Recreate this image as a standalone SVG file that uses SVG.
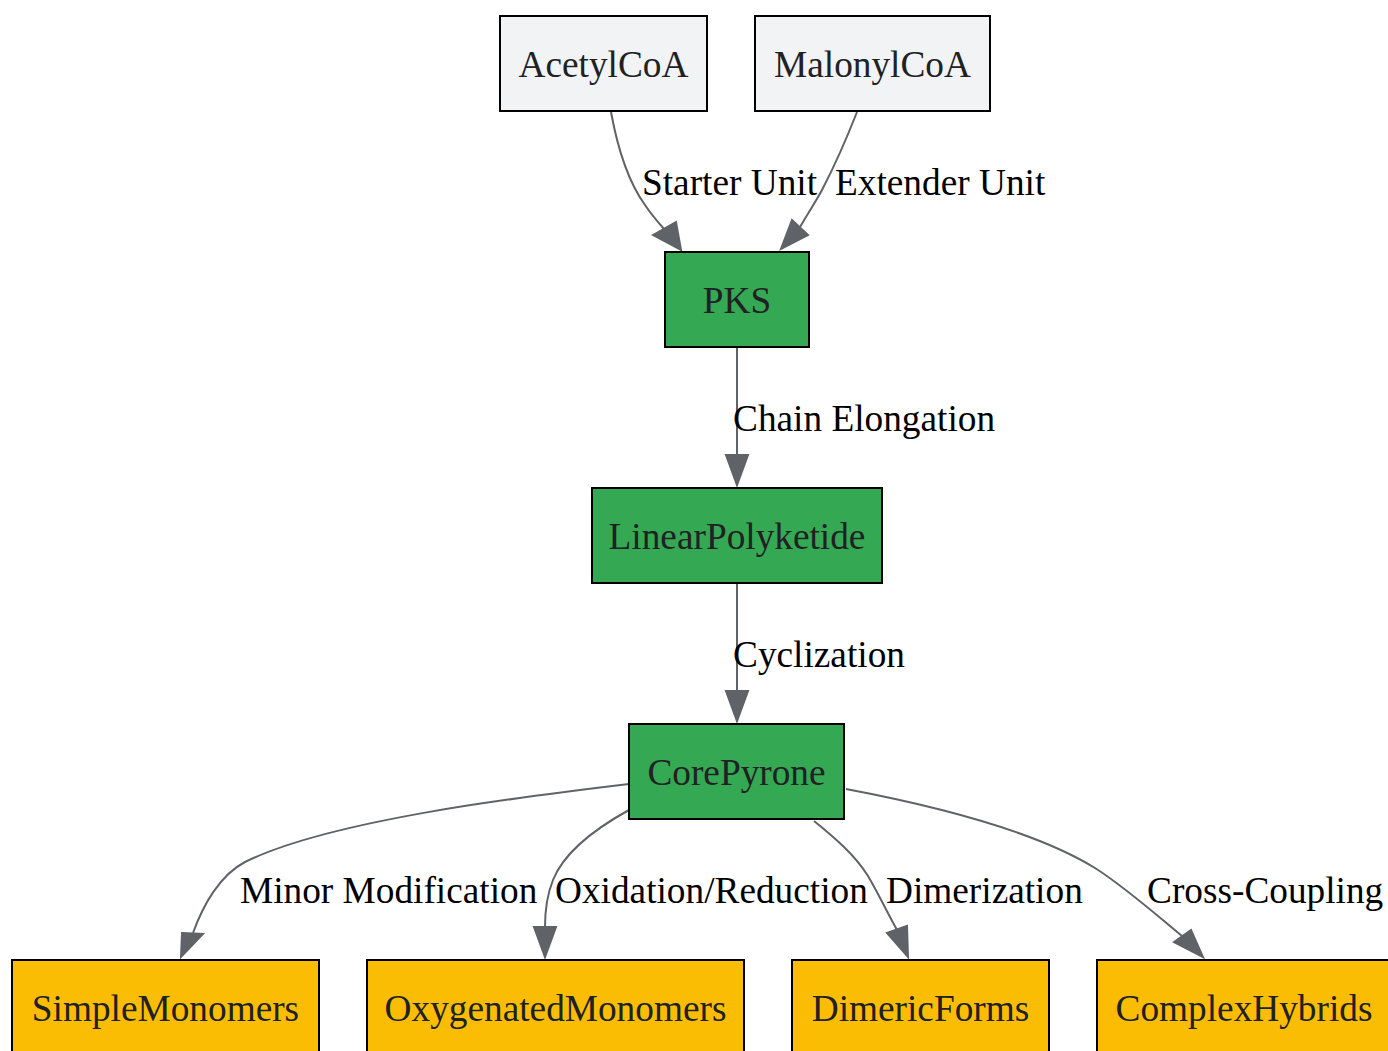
<svg xmlns="http://www.w3.org/2000/svg" width="1388" height="1051" viewBox="0 0 1388 1051">
<style>
.n{stroke:#000;stroke-width:2}
.src{fill:#f1f3f4}
.mid{fill:#34a853}
.out{fill:#fbbc04}
.nt{font-family:"Liberation Serif","Times New Roman",serif;font-size:37.3px;fill:#202124;text-anchor:middle}
.e{fill:none;stroke:#5f6368;stroke-width:2}
.ah{fill:#5f6368;stroke:#5f6368;stroke-width:2}
.el{font-family:"Liberation Serif","Times New Roman",serif;font-size:37.3px;fill:#000}
</style>
<rect width="1388" height="1051" fill="#fff"/>
<g id="connectors">
<path class="e" d="M611,112 C617,145 627,180 645,205 C651,214 657,221 664,229"/>
<polygon class="ah" points="653,235 676,222 681,250"/>
<text class="el" x="642" y="195">Starter Unit</text>
<path class="e" d="M857,112 C848,135 835,165 822,190 C815,203 808,213 800,227"/>
<polygon class="ah" points="792,220 808,235 781,249"/>
<text class="el" x="835" y="195">Extender Unit</text>
<path class="e" d="M737,348 L737,455"/>
<polygon class="ah" points="726,455 748,455 737,485"/>
<text class="el" x="733" y="431">Chain Elongation</text>
<path class="e" d="M737,584 L737,691"/>
<polygon class="ah" points="726,691 748,691 737,721"/>
<text class="el" x="733" y="667">Cyclization</text>
<path class="e" d="M629,784 C520,797 330,820 245,862 C220,875 203,905 193,933"/>
<polygon class="ah" points="182,933 203,934 181,957"/>
<text class="el" x="240" y="903">Minor Modification</text>
<path class="e" d="M629,810 C600,826 565,850 553,880 C547,895 545,910 545,927"/>
<polygon class="ah" points="534,927 556,927 545,957"/>
<text class="el" x="555" y="903">Oxidation/Reduction</text>
<path class="e" d="M814,821 C835,838 855,855 868,876 C878,893 886,910 897,930"/>
<polygon class="ah" points="887,933 907,926 908,957"/>
<text class="el" x="886" y="903">Dimerization</text>
<path class="e" d="M846,789 C920,803 1030,828 1095,868 C1125,887 1160,918 1182,936"/>
<polygon class="ah" points="1174,942 1191,930 1203,957"/>
<text class="el" x="1147" y="903">Cross-Coupling</text>
</g>
<g id="AcetylCoA"><rect class="n src" x="500" y="16" width="207" height="95"/><text class="nt" x="603.5" y="76.5">AcetylCoA</text></g>
<g id="MalonylCoA"><rect class="n src" x="755" y="16" width="235" height="95"/><text class="nt" x="872.5" y="76.5">MalonylCoA</text></g>
<g id="PKS"><rect class="n mid" x="665" y="252" width="144" height="95"/><text class="nt" x="737" y="312.5">PKS</text></g>
<g id="LinearPolyketide"><rect class="n mid" x="592" y="488" width="290" height="95"/><text class="nt" x="737" y="548.5">LinearPolyketide</text></g>
<g id="CorePyrone"><rect class="n mid" x="629" y="724" width="215" height="95"/><text class="nt" x="736.5" y="784.5">CorePyrone</text></g>
<g id="SimpleMonomers"><rect class="n out" x="12" y="960" width="307" height="95"/><text class="nt" x="165.5" y="1020.5">SimpleMonomers</text></g>
<g id="OxygenatedMonomers"><rect class="n out" x="367" y="960" width="377" height="95"/><text class="nt" x="555.5" y="1020.5">OxygenatedMonomers</text></g>
<g id="DimericForms"><rect class="n out" x="792" y="960" width="257" height="95"/><text class="nt" x="920.5" y="1020.5">DimericForms</text></g>
<g id="ComplexHybrids"><rect class="n out" x="1097" y="960" width="294" height="95"/><text class="nt" x="1244" y="1020.5">ComplexHybrids</text></g>
</svg>
